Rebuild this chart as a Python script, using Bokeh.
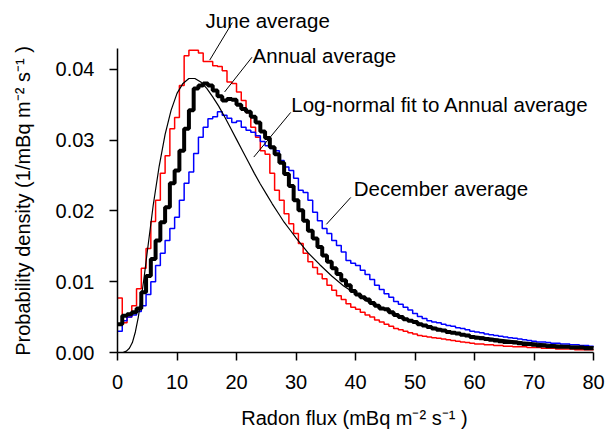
from bokeh.plotting import figure
from bokeh.models import Range1d, FixedTicker, PrintfTickFormatter, Label, Arrow
from bokeh.embed import file_html
from bokeh.resources import INLINE

BIN_WIDTH = 0.8  # mBq m-2 s-1 per histogram bin

june = [0.0077, 0.0042, 0.0050, 0.0066, 0.0090, 0.0119, 0.0147, 0.0185, 0.0215, 0.0253,
        0.0278, 0.0316, 0.0332, 0.0377, 0.0419, 0.0427, 0.0427, 0.0423, 0.0411, 0.0411,
        0.0405, 0.0404, 0.0398, 0.0382, 0.0380, 0.0368, 0.0356, 0.0339, 0.0318, 0.0304,
        0.0285, 0.0280, 0.0253, 0.0229, 0.0215, 0.0196, 0.0182, 0.0168, 0.0154, 0.0140,
        0.0128, 0.0120, 0.0111, 0.0104, 0.0095, 0.0088, 0.0080, 0.0075, 0.0069, 0.0064,
        0.0061, 0.0057, 0.0053, 0.0050, 0.0046, 0.0043, 0.0040, 0.0037, 0.0034, 0.0032,
        0.0030, 0.0028, 0.0026, 0.0024, 0.0023, 0.0022, 0.0021, 0.0020, 0.0019, 0.0018,
        0.0017, 0.0016, 0.0015, 0.0014, 0.0013, 0.0012, 0.0012, 0.0011, 0.0011, 0.0010,
        0.0010, 0.0009, 0.0009, 0.0008, 0.0008, 0.0008, 0.0007, 0.0007, 0.0007, 0.0006,
        0.0006, 0.0006, 0.0005, 0.0005, 0.0005, 0.0005, 0.0004, 0.0004, 0.0004, 0.0004]

annual = [0.0040, 0.0052, 0.0054, 0.0057, 0.0062, 0.0085, 0.0108, 0.0132, 0.0158, 0.0184,
          0.0205, 0.0239, 0.0257, 0.0285, 0.0316, 0.0342, 0.0373, 0.0377, 0.0380, 0.0377,
          0.0370, 0.0362, 0.0356, 0.0358, 0.0357, 0.0350, 0.0344, 0.0340, 0.0333, 0.0325,
          0.0312, 0.0303, 0.0290, 0.0280, 0.0268, 0.0252, 0.0235, 0.0215, 0.0201, 0.0186,
          0.0172, 0.0161, 0.0149, 0.0137, 0.0128, 0.0119, 0.0111, 0.0102, 0.0095, 0.0087,
          0.0082, 0.0078, 0.0075, 0.0070, 0.0066, 0.0062, 0.0061, 0.0057, 0.0053, 0.0050,
          0.0047, 0.0045, 0.0043, 0.0040, 0.0038, 0.0036, 0.0034, 0.0032, 0.0031, 0.0029,
          0.0028, 0.0027, 0.0025, 0.0024, 0.0022, 0.0021, 0.0020, 0.0019, 0.0018, 0.0017,
          0.0016, 0.0015, 0.0015, 0.0014, 0.0013, 0.0012, 0.0012, 0.0011, 0.0010, 0.0010,
          0.0009, 0.0009, 0.0008, 0.0008, 0.0008, 0.0007, 0.0007, 0.0007, 0.0006, 0.0006]

december = [0.0030, 0.0045, 0.0050, 0.0053, 0.0058, 0.0066, 0.0082, 0.0100, 0.0123, 0.0140,
            0.0158, 0.0175, 0.0191, 0.0215, 0.0239, 0.0255, 0.0281, 0.0304, 0.0318, 0.0330,
            0.0333, 0.0340, 0.0335, 0.0331, 0.0325, 0.0327, 0.0318, 0.0314, 0.0311, 0.0306,
            0.0298, 0.0292, 0.0288, 0.0285, 0.0271, 0.0262, 0.0257, 0.0246, 0.0229, 0.0226,
            0.0215, 0.0198, 0.0186, 0.0175, 0.0168, 0.0158, 0.0151, 0.0142, 0.0130, 0.0126,
            0.0123, 0.0116, 0.0110, 0.0103, 0.0095, 0.0089, 0.0083, 0.0078, 0.0072, 0.0068,
            0.0064, 0.0060, 0.0055, 0.0051, 0.0048, 0.0045, 0.0043, 0.0042, 0.0040, 0.0038,
            0.0037, 0.0035, 0.0034, 0.0032, 0.0030, 0.0029, 0.0028, 0.0026, 0.0025, 0.0024,
            0.0023, 0.0022, 0.0021, 0.0020, 0.0019, 0.0018, 0.0017, 0.0016, 0.0015, 0.0015,
            0.0014, 0.0013, 0.0013, 0.0012, 0.0012, 0.0011, 0.0011, 0.0010, 0.0010, 0.0009]

fit_x = [0, 1, 1.5, 2, 2.5, 3, 3.5, 4, 4.5, 5, 6, 7, 8, 9, 10, 11, 12, 13, 14, 15, 16, 17, 18,
         19, 20, 21, 22, 23, 24, 25, 26, 27, 28, 29, 30, 32, 34, 36, 38, 40, 42, 44, 46, 48,
         50, 53, 56, 60, 64, 68, 72, 76, 80]
fit_y = [0.0, 0.00003, 0.0002, 0.0006, 0.0014, 0.0029, 0.0050, 0.0077, 0.0108, 0.0142,
         0.0208, 0.0263, 0.0308, 0.0342, 0.0366, 0.0380, 0.0387, 0.0387, 0.0382, 0.0373,
         0.0361, 0.0348, 0.0333, 0.0317, 0.0301, 0.0285, 0.0269, 0.0253, 0.0238, 0.0224,
         0.0210, 0.0197, 0.0184, 0.0173, 0.0162, 0.0141, 0.0124, 0.0108, 0.0094, 0.0083,
         0.0072, 0.0064, 0.0056, 0.0049, 0.0043, 0.0036, 0.0030, 0.0023, 0.0019, 0.0015,
         0.0012, 0.0009, 0.0008]

x_ticks = [0, 10, 20, 30, 40, 50, 60, 70, 80]
y_ticks = [0.0, 0.01, 0.02, 0.03, 0.04]

FONT = "Liberation Sans"
NBSP = "\u00a0"

p = figure(width=608, height=431, output_backend="svg", toolbar_location=None,
           x_range=Range1d(0, 81.5), y_range=Range1d(0, 0.0483),
           min_border_left=117, min_border_right=6, min_border_top=10, min_border_bottom=79)
p.background_fill_color = "white"
p.border_fill_color = "white"
p.outline_line_color = None
p.grid.visible = False

p.xaxis.ticker = FixedTicker(ticks=x_ticks)
p.yaxis.ticker = FixedTicker(ticks=y_ticks)
p.yaxis.formatter = PrintfTickFormatter(format="%.2f")
p.xaxis.bounds = (0, 80)
p.yaxis.bounds = (0, 0.0429)
for ax in (p.xaxis[0], p.yaxis[0]):
    ax.axis_line_color = "black"
    ax.axis_line_width = 1.5
    ax.major_tick_line_color = "black"
    ax.major_tick_line_width = 1.5
    ax.major_tick_out = 8
    ax.major_tick_in = 0
    ax.minor_tick_line_color = None
    ax.major_label_text_font = FONT
    ax.major_label_text_font_size = "20px"
    ax.major_label_text_color = "black"
    ax.axis_label_text_font = FONT
    ax.axis_label_text_font_size = "20px"
    ax.axis_label_text_font_style = "normal"
    ax.axis_label_text_color = "black"
p.xaxis.major_label_standoff = 14
p.yaxis.major_label_standoff = 15
# trailing no-break spaces centre the titles on the drawn axis extent rather than the frame
p.xaxis.axis_label = "Radon flux (mBq m\u207b\u00b2 s\u207b\u00b9 )" + NBSP * 2
p.yaxis.axis_label = "Probability density (1/mBq m\u207b\u00b2 s\u207b\u00b9 )" + NBSP * 7
p.xaxis.axis_label_standoff = 15
p.yaxis.axis_label_standoff = 19

edges = [i * BIN_WIDTH for i in range(len(june) + 1)]
p.step(edges, june + [june[-1]], mode="after", line_color="#ff0000", line_width=1.5)
p.step(edges, december + [december[-1]], mode="after", line_color="#0000ff", line_width=1.5)
p.step(edges, annual + [annual[-1]], mode="after", line_color="black", line_width=4)
p.line(fit_x, fit_y, line_color="black", line_width=1.2)

labels = [("June average", 14.8, 0.0469),
          ("Annual average", 22.7, 0.0419),
          ("Log-normal fit to Annual average", 29.2, 0.0350),
          ("December average", 39.7, 0.0232)]
for txt, lx, ly in labels:
    p.add_layout(Label(x=lx, y=ly, text=txt, text_font=FONT, text_font_size="20.5px",
                       text_baseline="middle", text_align="left", text_color="black"))

leaders = [(19.3, 0.0466, 15.5, 0.0413),
           (22.6, 0.0417, 18.0, 0.0368),
           (29.1, 0.0339, 22.9, 0.0276),
           (39.2, 0.0219, 35.1, 0.0181)]
for x0, y0, x1, y1 in leaders:
    p.add_layout(Arrow(end=None, x_start=x0, y_start=y0, x_end=x1, y_end=y1,
                       line_color="black", line_width=1))

open("out.html", "w").write(file_html(p, INLINE))
